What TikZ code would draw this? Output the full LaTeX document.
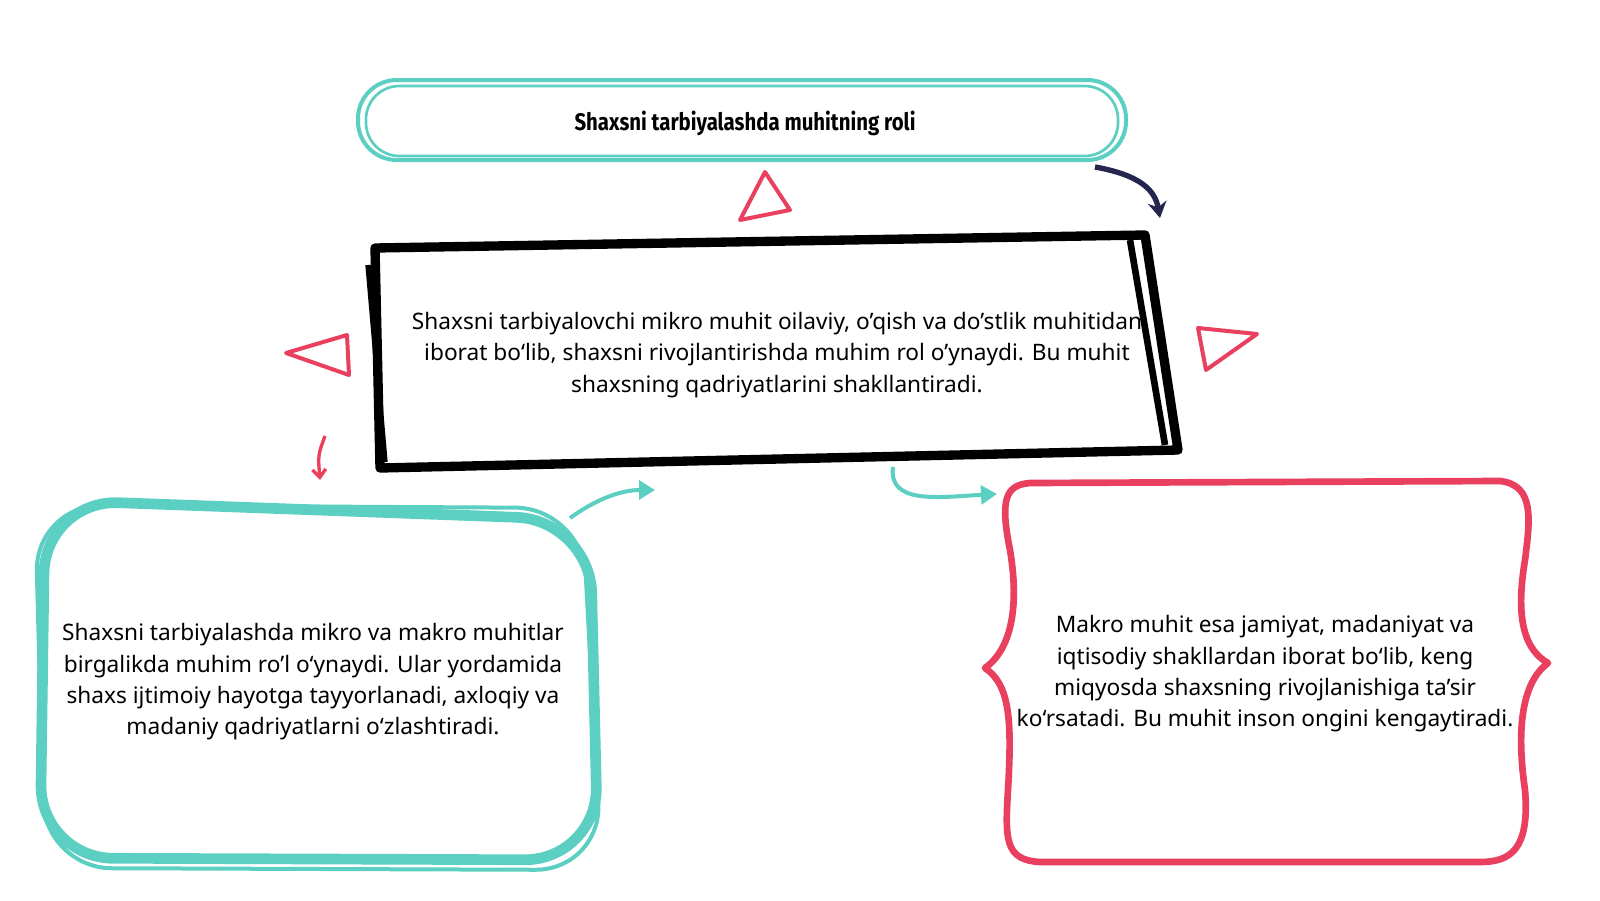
\documentclass[tikz,border=0pt]{standalone}
\usepackage{fontspec}
\setmainfont{Noto Sans}
\newfontfamily\titlefont{Fira Sans}
\usetikzlibrary{arrows.meta}
\definecolor{teal1}{HTML}{5BCFC1}
\definecolor{red1}{HTML}{E8405E}
\definecolor{navy1}{HTML}{24264F}
\begin{document}
\begin{tikzpicture}[x=0.75pt,y=-0.75pt,
  txt/.style={align=center,font=\fontsize{17}{23.5}\selectfont},
  tri/.style={draw=red1,line width=3pt,line join=round},
  tarrow/.style={draw=teal1,line width=3pt,-{Triangle[length=12pt,width=14pt]}}]
\useasboundingbox (0,0) rectangle (1600,900);
\fill[white] (0,0) rectangle (1600,900);
% title pill
\draw[teal1,line width=3pt,rounded corners=29pt] (358,80) rectangle (1126,160);
\draw[teal1,line width=2pt,rounded corners=25pt] (366,86) rectangle (1118,156);
\node[font=\titlefont\bfseries\fontsize{18}{22}\selectfont,xscale=0.85] (title) at (745,123) {Shaxsni tarbiyalashda muhitning roli};
% black box
\draw[black,line width=7pt,line join=round] (375,248) -- (1145,235) -- (1178,450) -- (380,468) -- cycle;
\draw[black,line width=4pt] (368,265) -- (385,462);
\draw[black,line width=5pt] (1130,240) -- (1165,445);
\node[txt] (mid) at (777,355) {Shaxsni tarbiyalovchi mikro muhit oilaviy, o'qish va do'stlik muhitidan\\iborat bo‘lib, shaxsni rivojlantirishda muhim rol o'ynaydi. Bu muhit\\shaxsning qadriyatlarini shakllantiradi.};
% triangles
\draw[tri] (740,220) -- (765,172) -- (790,210) -- cycle;
\draw[tri] (286,353) -- (347,335) -- (349,375) -- cycle;
\draw[tri] (1198,328) -- (1257,334) -- (1206,370) -- cycle;
% teal box
\draw[teal1,line width=8pt,rounded corners=55pt] (45,500) -- (590,520) -- (598,860) -- (40,858) -- cycle;
\draw[teal1,line width=3pt,rounded corners=50pt] (35,505) -- (582,508) -- (602,870) -- (45,868) -- cycle;
\node[txt] (left) at (313,682) {Shaxsni tarbiyalashda mikro va makro muhitlar\\birgalikda muhim ro'l o‘ynaydi. Ular yordamida\\shaxs ijtimoiy hayotga tayyorlanadi, axloqiy va\\madaniy qadriyatlarni o‘zlashtiradi.};
% red box
\draw[red1,line width=5pt,line join=round] (1030,483) -- (1500,481) .. controls (1535,485) and (1530,520) .. (1525,560) .. controls (1515,620) and (1525,650) .. (1548,663) .. controls (1525,680) and (1515,720) .. (1525,790) .. controls (1530,850) and (1510,862) .. (1480,862) -- (1040,862) .. controls (1005,860) and (1005,840) .. (1008,790) .. controls (1012,720) and (1010,685) .. (985,668) .. controls (1010,650) and (1020,610) .. (1010,550) .. controls (1000,500) and (1005,485) .. (1030,483) -- cycle;
\node[txt] (right) at (1265,674) {Makro muhit esa jamiyat, madaniyat va\\iqtisodiy shakllardan iborat bo‘lib, keng\\miqyosda shaxsning rivojlanishiga ta'sir\\ko‘rsatadi. Bu muhit inson ongini kengaytiradi.};
% arrows
\coordinate (a1) at (1095,167); \coordinate (a2) at (1160,218);
\draw[navy1,line width=4pt,-{Stealth[length=12pt,width=14pt]}] (a1) .. controls (1140,175) and (1155,190) .. (a2);
\coordinate (b1) at (325,436); \coordinate (b2) at (320,480);
\draw[red1,line width=2.5pt,-{Straight Barb[length=6pt,width=10pt]}] (b1) .. controls (318,455) .. (b2);
\coordinate (c1) at (570,518); \coordinate (c2) at (655,490);
\draw[tarrow] (c1) .. controls (595,500) and (620,490) .. (c2);
\coordinate (d1) at (893,467); \coordinate (d2) at (997,494);
\draw[tarrow] (d1) .. controls (888,505) and (940,497) .. (d2);
\end{tikzpicture}
\end{document}
